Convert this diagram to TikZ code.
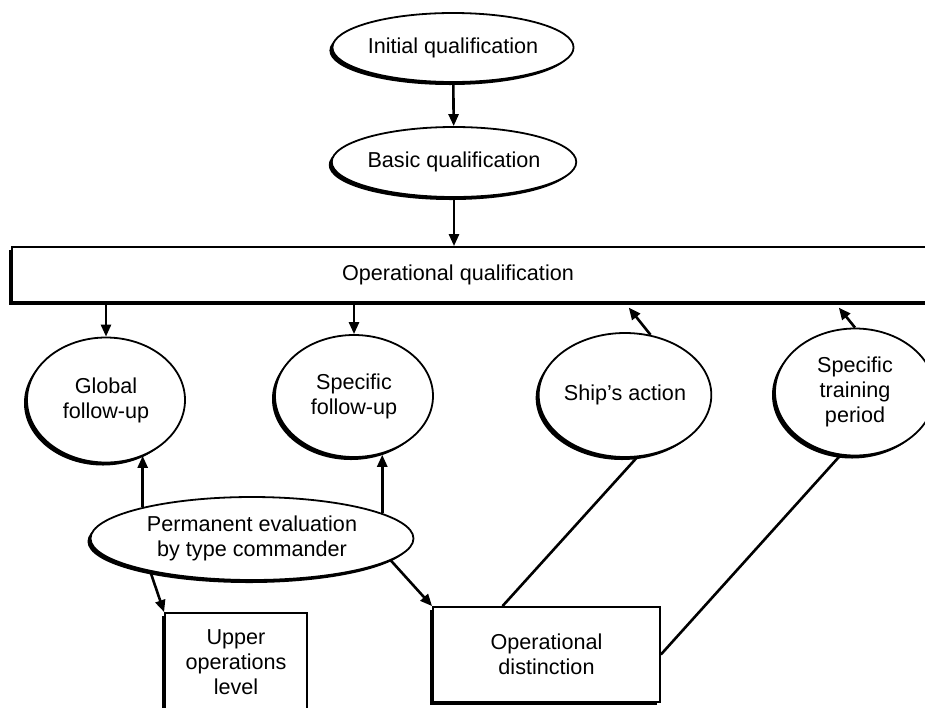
\documentclass[tikz,border=0pt]{standalone}
\usepackage{fontspec}
\setmainfont{Liberation Sans}
\usetikzlibrary{arrows.meta,shapes.geometric,shadows}
\tikzset{
  stage/.style = {align=center, inner sep=0pt, text centered,
    font=\fontsize{10.8}{12.5}\selectfont, fill=white, draw=black,
    line width=0.9pt,
    general shadow={fill=black, shadow xshift=-1.5pt, shadow yshift=-1.5pt}},
  oval/.style = {stage, ellipse},% rounded step
  blk/.style = {stage, rectangle}% boxed step
}

\begin{document}
\begin{tikzpicture}[x=0.5pt, y=-0.5pt, line width=1.3pt,
  >={Triangle[length=6pt,width=5pt]}]
\useasboundingbox (0,0) rectangle (925,707);

\node[oval, minimum width=118.5pt, minimum height=34.5pt] (init) at (453,47.5) {Initial qualification};
\node[oval, minimum width=117.5pt, minimum height=35pt] (basic) at (454,162) {Basic qualification};
\node[blk, minimum width=469pt, minimum height=27.5pt,
  label={[xshift=-11.5pt, font=\fontsize{10.8}{12.5}\selectfont]center:Operational qualification}] (opq) at (481,274.5) {};

\node[oval, minimum width=79pt, minimum height=62.5pt] (global) at (106,400) {Global\\follow-up};
\node[oval, minimum width=79pt, minimum height=61pt] (specfu) at (354,396) {Specific\\follow-up};
\node[oval, minimum width=78pt, minimum height=62pt] (ship) at (625,395) {Ship’s action};
\node[oval, minimum width=80pt, minimum height=63.5pt] (train) at (855,392) {Specific\\training\\period};

\node[oval, minimum width=161.5pt, minimum height=41.5pt] (perm) at (252,538.5) {Permanent evaluation\\by type commander};
\node[blk, minimum width=71pt, minimum height=49pt] (upper) at (236,662) {Upper\\operations\\level};
\node[blk, minimum width=113.5pt, minimum height=47.5pt] (opdist) at (546.5,654.5) {Operational\\distinction};

% qualification chain
\draw[->] (init) -- (basic);
\draw[->] (basic) -- (basic.south |- opq.north);
\draw[->] (opq.south -| global.north) -- (global);
\draw[->] (opq.south -| specfu.north) -- (specfu);
\draw[->, shorten >=3pt] (ship.67) -- (opq.south -| ship.north);
\draw[->, shorten >=3pt] (train.north) -- ([xshift=-10pt]opq.south -| train.north);

% evaluation
\draw[->] (perm.164) -- (perm.164 |- global.-56);
\draw[->] (perm.11) -- (perm.11 |- specfu.-67);
\draw[->] (perm.198) -- (upper.north west);
\draw[->] (perm.-9) -- (opdist.north west);
\draw (ship.-79) -- ([xshift=-22pt]opdist.north);
\draw (train.-103) -- (opdist.east);
\end{tikzpicture}
\end{document}
